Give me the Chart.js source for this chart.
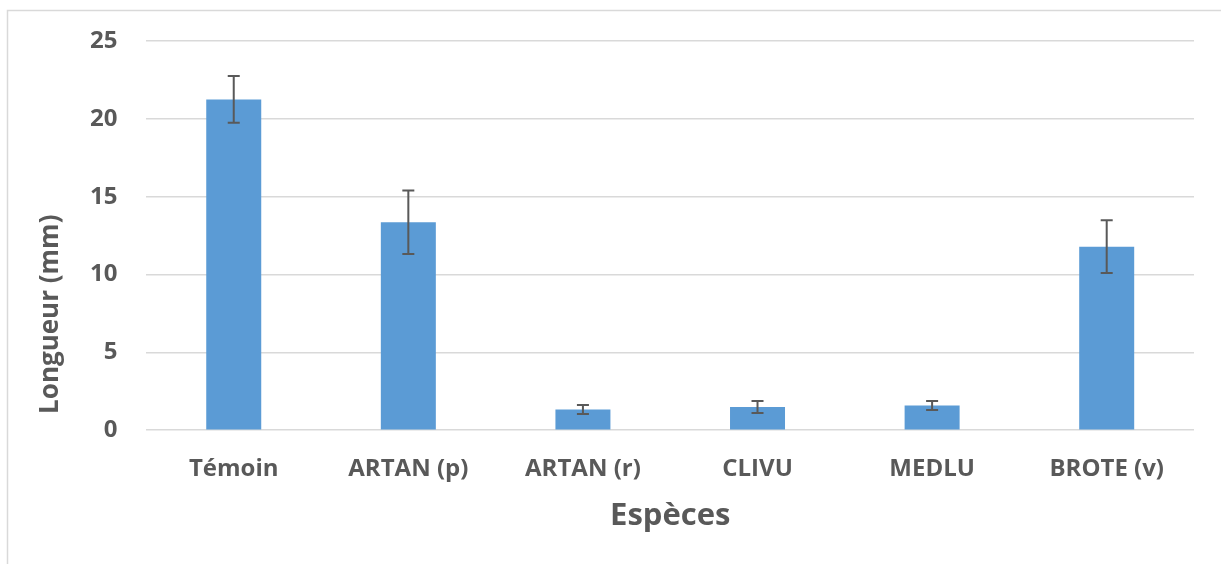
<!DOCTYPE html>
<html>
<head>
<meta charset="utf-8">
<script src="https://cdn.jsdelivr.net/npm/chart.js@4/dist/chart.umd.min.js"></script>
<style>
  html, body { margin: 0; padding: 0; background: #ffffff; }
  #wrap { position: relative; width: 1221px; height: 564px; }
</style>
</head>
<body>
<div id="wrap"><canvas id="c"></canvas></div>
<script>
const categories = ['Témoin', 'ARTAN (p)', 'ARTAN (r)', 'CLIVU', 'MEDLU', 'BROTE (v)'];
const meanLength = [21.25, 13.36, 1.33, 1.49, 1.58, 11.79];
const errorLength = [1.5, 2.04, 0.29, 0.38, 0.29, 1.69];
const yTicks = [0, 5, 10, 15, 20, 25];
const xTitle = 'Espèces';
const yTitle = 'Longueur (mm)';

const textColor = '#595959';
const gridColor = '#d9d9d9';
const fontFamily = '"Open Sans", "DejaVu Sans", sans-serif';

const frame = {
  id: 'frame',
  beforeDraw(chart) {
    const ctx = chart.ctx;
    ctx.save();
    ctx.strokeStyle = gridColor;
    ctx.lineWidth = 1.5;
    ctx.beginPath();
    ctx.moveTo(7.5, chart.height);
    ctx.lineTo(7.5, 10.5);
    ctx.lineTo(chart.width, 10.5);
    ctx.stroke();
    ctx.restore();
  }
};

// Y-axis title, placed as in the reference (below the plot centre)
const yAxisTitle = {
  id: 'yAxisTitle',
  afterDraw(chart) {
    const ctx = chart.ctx;
    const area = chart.chartArea;
    ctx.save();
    ctx.translate(51, area.top + (area.bottom - area.top) * 0.702);
    ctx.rotate(-Math.PI / 2);
    ctx.fillStyle = textColor;
    ctx.font = 'bold 26px ' + fontFamily;
    ctx.textAlign = 'center';
    ctx.textBaseline = 'middle';
    ctx.fillText(yTitle, 0, 0);
    ctx.restore();
  }
};

const errorBars = {
  id: 'errorBars',
  afterDatasetsDraw(chart) {
    const ctx = chart.ctx;
    const meta = chart.getDatasetMeta(0);
    const y = chart.scales.y;
    ctx.save();
    ctx.strokeStyle = '#595959';
    ctx.lineWidth = 2;
    meta.data.forEach((bar, i) => {
      const x = bar.x;
      const yt = y.getPixelForValue(meanLength[i] + errorLength[i]);
      const yb = y.getPixelForValue(meanLength[i] - errorLength[i]);
      ctx.beginPath();
      ctx.moveTo(x, yt); ctx.lineTo(x, yb);
      ctx.moveTo(x - 6, yt); ctx.lineTo(x + 6, yt);
      ctx.moveTo(x - 6, yb); ctx.lineTo(x + 6, yb);
      ctx.stroke();
    });
    ctx.restore();
  }
};

new Chart(document.getElementById('c'), {
  type: 'bar',
  data: {
    labels: categories,
    datasets: [{
      data: meanLength,
      backgroundColor: '#5b9bd5',
      borderWidth: 0,
      categoryPercentage: 1,
      barPercentage: 0.315
    }]
  },
  options: {
    responsive: true,
    maintainAspectRatio: false,
    animation: false,
    layout: { padding: { left: 61, right: 27, top: 41, bottom: 10 } },
    plugins: { legend: { display: false }, tooltip: { enabled: false } },
    scales: {
      x: {
        grid: { display: false },
        border: { display: false },
        ticks: {
          color: textColor,
          padding: 17,
          maxRotation: 0,
          font: { family: fontFamily, size: 24, weight: 'bold' }
        },
        title: {
          display: true,
          text: xTitle,
          color: textColor,
          font: { family: fontFamily, size: 31, weight: 'bold' },
          padding: { top: -3.6, bottom: 19.4 }
        }
      },
      y: {
        min: yTicks[0],
        max: yTicks[yTicks.length - 1],
        afterBuildTicks(scale) { scale.ticks = yTicks.map(v => ({ value: v })); },
        grid: { color: gridColor, lineWidth: 1.5, drawTicks: false },
        border: { display: false },
        ticks: {
          color: textColor,
          padding: 29,
          font: { family: fontFamily, size: 24, weight: 'bold', lineHeight: 1.0 }
        }
      }
    }
  },
  plugins: [frame, errorBars, yAxisTitle]
});
</script>
</body>
</html>
